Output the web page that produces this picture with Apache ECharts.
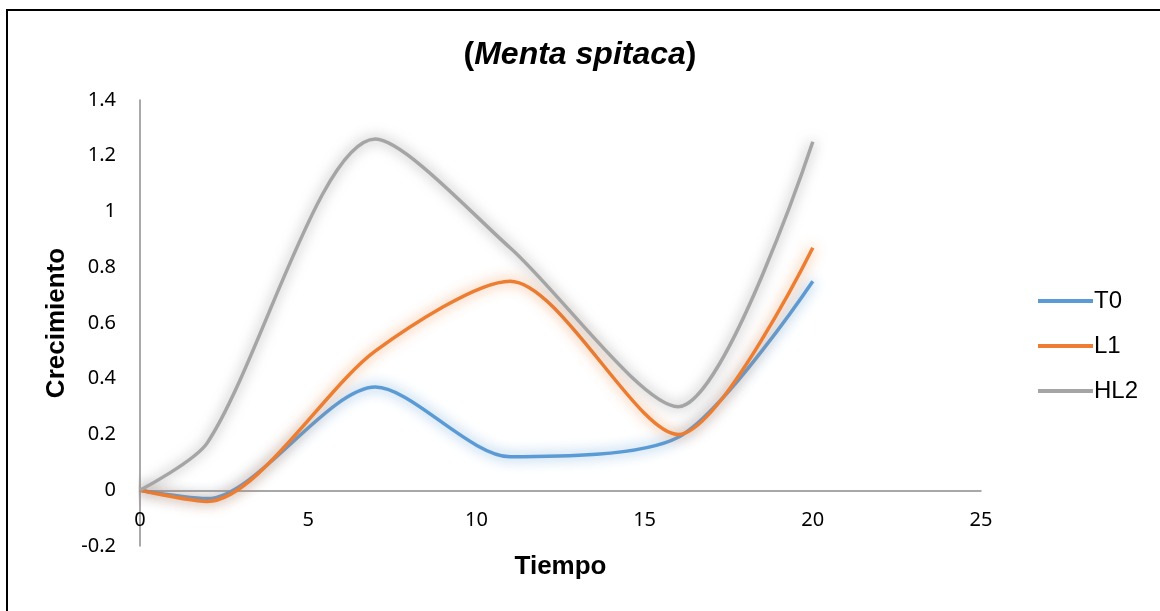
<!DOCTYPE html>
<html>
<head>
<meta charset="utf-8">
<script src="https://cdn.jsdelivr.net/npm/echarts@6/dist/echarts.min.js"></script>
<style>
    html, body { margin: 0; padding: 0; background: #fff; }
    #main { width: 1160px; height: 611px; }
</style>
</head>
<body>
<div id="main"></div>
<script>
    // datos
    var tiempo = [0, 2, 7, 11, 16, 20];
    var t0 = [0, -0.03, 0.37, 0.12, 0.19, 0.75];
    var l1 = [0, -0.04, 0.5, 0.75, 0.2, 0.87];
    var hl2 = [0, 0.17, 1.26, 0.87, 0.3, 1.25];
    var seriesNames = ['T0', 'L1', 'HL2'];
    var colors = ['#5B9BD5', '#ED7D31', '#A5A5A5'];
    var glow = ['rgba(91,155,213,0.9)', 'rgba(237,125,49,0.8)', 'rgba(100,100,100,0.65)'];

    function pares(ys) {
        return tiempo.map(function (x, i) { return [x, ys[i]]; });
    }

    function linea(idx, ys) {
        return {
            name: seriesNames[idx],
            type: 'line',
            data: pares(ys),
            smooth: 0.27,
            showSymbol: false,
            color: colors[idx],
            lineStyle: {
                width: 3.5,
                color: colors[idx],
                shadowColor: glow[idx],
                shadowBlur: 13
            }
        };
    }

    var chart = echarts.init(document.getElementById('main'));
    var option = {
        animation: false,
        backgroundColor: '#fff',
        title: {
            text: '{p|(}{i|Menta spitaca}{p|)}',
            left: 'center',
            top: 34,
            textStyle: {
                rich: {
                    p: { fontFamily: 'Liberation Sans', fontSize: 32, fontWeight: 'bold', color: '#000' },
                    i: { fontFamily: 'Liberation Sans', fontSize: 32, fontWeight: 'bold', fontStyle: 'italic', color: '#000' }
                }
            }
        },
        graphic: [{
            type: 'rect',
            shape: { x: 7, y: 10, width: 1170, height: 620 },
            style: { fill: null, stroke: '#000', lineWidth: 2 },
            silent: true
        }],
        legend: {
            orient: 'vertical',
            left: 1033,
            top: 284,
            icon: 'rect',
            itemWidth: 55,
            itemHeight: 4,
            itemGap: 21,
            textStyle: { fontFamily: 'Liberation Sans', fontSize: 24, color: '#000', padding: [0, 0, 0, -4] },
            data: seriesNames
        },
        grid: {
            left: 140,
            right: 179,
            top: 100,
            bottom: 65,
            outerBoundsMode: 'none',
            containLabel: false
        },
        xAxis: {
            type: 'value',
            min: 0,
            max: 25,
            interval: 5,
            name: 'Tiempo',
            nameLocation: 'middle',
            nameGap: 8,
            nameTextStyle: { fontFamily: 'Liberation Sans', fontSize: 26, fontWeight: 'bold', color: '#000' },
            axisLine: { onZero: true, lineStyle: { color: '#8c8c8c', width: 1.5 } },
            axisTick: { show: false },
            splitLine: { show: false },
            axisLabel: { margin: -36, fontFamily: 'Noto Sans', fontSize: 20, color: '#000' }
        },
        yAxis: {
            type: 'value',
            min: -0.2,
            max: 1.4,
            interval: 0.2,
            name: 'Crecimiento',
            nameLocation: 'middle',
            nameGap: 70,
            nameTextStyle: { fontFamily: 'Liberation Sans', fontSize: 26, fontWeight: 'bold', color: '#000' },
            axisLine: { show: true, onZero: false, lineStyle: { color: '#8c8c8c', width: 1.5 } },
            axisTick: { show: false },
            splitLine: { show: false },
            axisLabel: {
                margin: 24,
                fontFamily: 'Noto Sans',
                fontSize: 20,
                color: '#000',
                formatter: function (v) { return String(Math.round(v * 10) / 10); }
            }
        },
        series: [
            linea(0, t0),
            linea(1, l1),
            linea(2, hl2)
        ]
    };
    chart.setOption(option);
</script>
</body>
</html>
